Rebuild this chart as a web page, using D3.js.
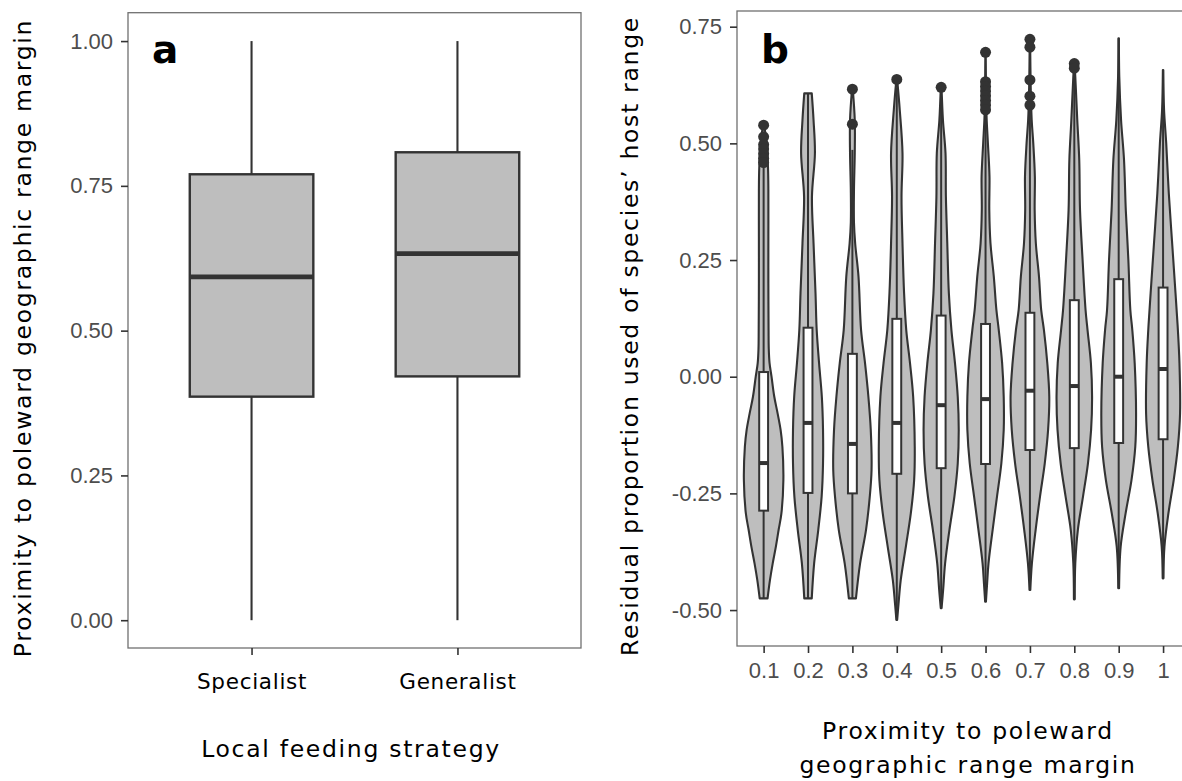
<!DOCTYPE html>
<html><head><meta charset="utf-8">
<script src="https://cdn.jsdelivr.net/npm/d3@7/dist/d3.min.js"></script>
<style>html,body{margin:0;padding:0;background:#fff;}svg{display:block;}</style>
</head><body>
<svg id="chart" width="1182" height="781"></svg>
<script>
// ---------- Panel a data ----------
const feedingCategories = ["Specialist", "Generalist"];
const aWhiskerLow  = [0.000, 0.000];
const aQ1          = [0.386, 0.421];
const aMedian      = [0.593, 0.633];
const aQ3          = [0.770, 0.808];
const aWhiskerHigh = [1.000, 1.000];
const aTicks = [0, 0.25, 0.5, 0.75, 1];

// ---------- Panel b data ----------
const proximityCategories = ["0.1","0.2","0.3","0.4","0.5","0.6","0.7","0.8","0.9","1"];
const bQ1          = [-0.287,-0.249,-0.250,-0.208,-0.196,-0.187,-0.157,-0.153,-0.142,-0.134];
const bMedian      = [-0.185,-0.099,-0.144,-0.099,-0.061,-0.048,-0.030,-0.020, 0.000, 0.0165];
const bQ3          = [ 0.010, 0.105, 0.049, 0.124, 0.131, 0.113, 0.137, 0.164, 0.209, 0.191];
const bWhiskerLow  = [-0.475,-0.475,-0.475,-0.521,-0.496,-0.482,-0.457,-0.477,-0.453,-0.432];
const bWhiskerHigh = [ 0.455, 0.607, 0.486, 0.620, 0.600, 0.563, 0.575, 0.640, 0.725, 0.657];
const bOutliers = [
  [0.539,0.514,0.497,0.488,0.478,0.468,0.459],
  [],
  [0.616,0.541],
  [0.637],
  [0.620],
  [0.695,0.632,0.622,0.612,0.602,0.592,0.582,0.572],
  [0.723,0.706,0.636,0.601,0.582],
  [0.671,0.661],
  [],
  []
];
const bTicks = [-0.5, -0.25, 0, 0.25, 0.5, 0.75];
// violin outlines: [value, relative density], bottom to top
const violinProfiles = [
  [[-0.475,0.20],[-0.436,0.32],[-0.400,0.46],[-0.364,0.62],[-0.328,0.76],[-0.293,0.90],[-0.221,1.00],[-0.150,0.95],[-0.114,0.86],[-0.079,0.71],[-0.043,0.54],[0.000,0.40],[0.029,0.30],[0.060,0.26],[0.100,0.25],[0.200,0.24],[0.300,0.24],[0.400,0.24],[0.450,0.22],[0.500,0.15],[0.539,0.03]],
  [[-0.475,0.19],[-0.400,0.31],[-0.328,0.52],[-0.257,0.69],[-0.186,0.76],[-0.114,0.76],[-0.043,0.70],[0.029,0.56],[0.100,0.44],[0.179,0.38],[0.286,0.28],[0.386,0.20],[0.479,0.35],[0.550,0.28],[0.607,0.19]],
  [[-0.475,0.18],[-0.400,0.39],[-0.328,0.69],[-0.257,0.88],[-0.200,0.97],[-0.114,0.93],[-0.043,0.81],[0.029,0.64],[0.100,0.44],[0.214,0.31],[0.286,0.14],[0.330,0.08],[0.400,0.08],[0.480,0.12],[0.550,0.12],[0.616,0.02]],
  [[-0.521,0.02],[-0.486,0.09],[-0.436,0.20],[-0.364,0.46],[-0.293,0.71],[-0.221,0.88],[-0.150,0.91],[-0.043,0.83],[0.029,0.67],[0.100,0.48],[0.179,0.37],[0.286,0.29],[0.386,0.24],[0.479,0.29],[0.572,0.15],[0.637,0.02]],
  [[-0.496,0.02],[-0.457,0.10],[-0.400,0.20],[-0.328,0.42],[-0.257,0.67],[-0.186,0.84],[-0.114,0.89],[-0.043,0.84],[0.029,0.70],[0.100,0.52],[0.179,0.39],[0.286,0.31],[0.386,0.24],[0.479,0.22],[0.550,0.09],[0.620,0.02]],
  [[-0.482,0.02],[-0.443,0.08],[-0.400,0.15],[-0.328,0.36],[-0.257,0.58],[-0.186,0.80],[-0.114,0.92],[-0.043,0.92],[0.029,0.84],[0.100,0.67],[0.143,0.55],[0.214,0.42],[0.286,0.25],[0.357,0.19],[0.429,0.20],[0.500,0.12],[0.560,0.05],[0.695,0.01]],
  [[-0.457,0.02],[-0.400,0.10],[-0.328,0.29],[-0.257,0.51],[-0.186,0.75],[-0.114,0.92],[-0.043,0.98],[0.029,0.88],[0.100,0.71],[0.143,0.57],[0.214,0.46],[0.286,0.30],[0.357,0.24],[0.429,0.25],[0.500,0.17],[0.550,0.09],[0.620,0.04],[0.723,0.01]],
  [[-0.477,0.02],[-0.400,0.05],[-0.328,0.18],[-0.257,0.44],[-0.186,0.69],[-0.114,0.85],[-0.043,0.90],[0.029,0.84],[0.100,0.67],[0.143,0.57],[0.250,0.42],[0.357,0.29],[0.465,0.25],[0.550,0.15],[0.643,0.05],[0.671,0.01]],
  [[-0.453,0.02],[-0.364,0.10],[-0.293,0.35],[-0.221,0.65],[-0.150,0.84],[-0.079,0.88],[0.029,0.81],[0.100,0.69],[0.143,0.59],[0.250,0.49],[0.357,0.36],[0.465,0.27],[0.550,0.12],[0.643,0.03],[0.725,0.01]],
  [[-0.432,0.02],[-0.364,0.07],[-0.293,0.27],[-0.221,0.54],[-0.150,0.75],[-0.079,0.86],[0.029,0.83],[0.100,0.75],[0.179,0.63],[0.286,0.46],[0.393,0.29],[0.500,0.16],[0.572,0.05],[0.657,0.01]]
];

// ---------- styles ----------
const DARK = "#333333", GREY = "#bebebe", FRAME = "#707070", TICKTXT = "#4d4d4d";
const NUMFONT = "'Liberation Sans', Arial, Helvetica, sans-serif";
const TXTFONT = "'DejaVu Sans', 'Lucida Grande', sans-serif";
const fmt2 = v => d3.format(".2f")(v).replace("\u2212", "-");

const svg = d3.select("#chart");

// ================= Panel a =================
const A = {left:128, right:581, top:12.7, bottom:648};
const xA = d3.scalePoint().domain(feedingCategories).range([A.left, A.right]).padding(0.6);
const yA = d3.scaleLinear().domain([-0.048, 1.049]).range([A.bottom, A.top]);
const gA = svg.append("g");

const statsA = feedingCategories.map((c,i)=>({c, lo:aWhiskerLow[i], q1:aQ1[i], med:aMedian[i], q3:aQ3[i], hi:aWhiskerHigh[i]}));
const bwA = xA.step()*0.6;
const boxesA = gA.selectAll("g.box").data(statsA).join("g");
boxesA.append("line").attr("x1",d=>xA(d.c)).attr("x2",d=>xA(d.c))
  .attr("y1",d=>yA(d.q3)).attr("y2",d=>yA(d.hi)).attr("stroke",DARK).attr("stroke-width",2.1);
boxesA.append("line").attr("x1",d=>xA(d.c)).attr("x2",d=>xA(d.c))
  .attr("y1",d=>yA(d.q1)).attr("y2",d=>yA(d.lo)).attr("stroke",DARK).attr("stroke-width",2.1);
boxesA.append("rect").attr("x",d=>xA(d.c)-bwA/2).attr("width",bwA)
  .attr("y",d=>yA(d.q3)).attr("height",d=>yA(d.q1)-yA(d.q3))
  .attr("fill",GREY).attr("stroke",DARK).attr("stroke-width",2.4);
boxesA.append("line").attr("x1",d=>xA(d.c)-bwA/2).attr("x2",d=>xA(d.c)+bwA/2)
  .attr("y1",d=>yA(d.med)).attr("y2",d=>yA(d.med)).attr("stroke",DARK).attr("stroke-width",4.8);

gA.append("rect").attr("x",A.left).attr("y",A.top).attr("width",A.right-A.left).attr("height",A.bottom-A.top)
  .attr("fill","none").attr("stroke",FRAME).attr("stroke-width",1.3);

const axYA = gA.append("g").attr("transform",`translate(${A.left},0)`)
  .call(d3.axisLeft(yA).tickValues(aTicks).tickFormat(fmt2).tickSize(7).tickPadding(8));
const axXA = gA.append("g").attr("transform",`translate(0,${A.bottom})`)
  .call(d3.axisBottom(xA).tickSize(7).tickPadding(19));

gA.append("text").text("a").attr("x",152).attr("y",63)
  .attr("font-family",TXTFONT).attr("font-weight","bold").attr("font-size",39).attr("fill","#000");
gA.append("text").text("Local feeding strategy").attr("x",351).attr("y",756.7)
  .attr("text-anchor","middle").attr("font-family",TXTFONT).attr("font-size",23.5).attr("letter-spacing",1.7).attr("fill","#000");
gA.append("text").text("Proximity to poleward geographic range margin")
  .attr("transform","translate(31,338) rotate(-90)")
  .attr("text-anchor","middle").attr("font-family",TXTFONT).attr("font-size",23.5).attr("letter-spacing",1.7).attr("fill","#000");

// ================= Panel b =================
const B = {left:737, right:1189.7, top:11, bottom:646};
const xB = d3.scalePoint().domain(proximityCategories).range([B.left, B.right]).padding(0.6);
const yB = d3.scaleLinear().domain([-0.577, 0.7836]).range([B.bottom, B.top]);
const wB = d3.scaleLinear().domain([0, 1]).range([0, xB.step()*0.445]);
const gB = svg.append("g");

const statsB = proximityCategories.map((c,i)=>({c, prof:violinProfiles[i], q1:bQ1[i], med:bMedian[i], q3:bQ3[i], lo:bWhiskerLow[i], hi:bWhiskerHigh[i], out:bOutliers[i]}));

const violinArea = cx => d3.area().curve(d3.curveCatmullRom.alpha(0.5))
  .y(d=>yB(d[0])).x0(d=>cx - wB(d[1])).x1(d=>cx + wB(d[1]));

gB.selectAll("path.violin").data(statsB).join("path")
  .attr("d",d=>violinArea(xB(d.c))(d.prof))
  .attr("fill",GREY).attr("stroke",DARK).attr("stroke-width",2.1).attr("stroke-linejoin","round");

const bwB = xB.step()*0.2;
const boxesB = gB.selectAll("g.bbox").data(statsB).join("g");
boxesB.append("line").attr("x1",d=>xB(d.c)).attr("x2",d=>xB(d.c))
  .attr("y1",d=>yB(d.q3)).attr("y2",d=>yB(d.hi)).attr("stroke",DARK).attr("stroke-width",2);
boxesB.append("line").attr("x1",d=>xB(d.c)).attr("x2",d=>xB(d.c))
  .attr("y1",d=>yB(d.q1)).attr("y2",d=>yB(d.lo)).attr("stroke",DARK).attr("stroke-width",2);
boxesB.append("rect").attr("x",d=>xB(d.c)-bwB/2).attr("width",bwB)
  .attr("y",d=>yB(d.q3)).attr("height",d=>yB(d.q1)-yB(d.q3))
  .attr("fill","#fff").attr("stroke",DARK).attr("stroke-width",2);
boxesB.append("line").attr("x1",d=>xB(d.c)-bwB/2).attr("x2",d=>xB(d.c)+bwB/2)
  .attr("y1",d=>yB(d.med)).attr("y2",d=>yB(d.med)).attr("stroke",DARK).attr("stroke-width",4);
boxesB.selectAll("circle").data(d=>d.out.map(v=>({c:d.c, v}))).join("circle")
  .attr("cx",d=>xB(d.c)).attr("cy",d=>yB(d.v)).attr("r",5.5).attr("fill",DARK);

gB.append("rect").attr("x",B.left).attr("y",B.top).attr("width",B.right-B.left).attr("height",B.bottom-B.top)
  .attr("fill","none").attr("stroke",FRAME).attr("stroke-width",1.3);

const axYB = gB.append("g").attr("transform",`translate(${B.left},0)`)
  .call(d3.axisLeft(yB).tickValues(bTicks).tickFormat(fmt2).tickSize(7).tickPadding(8));
const axXB = gB.append("g").attr("transform",`translate(0,${B.bottom})`)
  .call(d3.axisBottom(xB).tickSize(7).tickPadding(9));

gB.append("text").text("b").attr("x",761).attr("y",63)
  .attr("font-family",TXTFONT).attr("font-weight","bold").attr("font-size",39).attr("fill","#000");
const xtB = gB.append("text").attr("text-anchor","middle").attr("font-family",TXTFONT).attr("font-size",23.5).attr("letter-spacing",1.7).attr("fill","#000");
xtB.append("tspan").attr("x",968).attr("y",739).text("Proximity to poleward");
xtB.append("tspan").attr("x",968).attr("y",772.5).text("geographic range margin");
gB.append("text").text("Residual proportion used of species’ host range")
  .attr("transform","translate(638,336) rotate(-90)")
  .attr("text-anchor","middle").attr("font-family",TXTFONT).attr("font-size",23.5).attr("letter-spacing",1.7).attr("fill","#000");

// ---------- axis styling ----------
[axYA, axYB, axXB].forEach(ax=>{
  ax.select(".domain").remove();
  ax.selectAll(".tick line").attr("stroke",DARK).attr("stroke-width",1.6);
  ax.selectAll(".tick text").attr("fill",TICKTXT).attr("font-family",NUMFONT).attr("font-size",22);
});
axXA.select(".domain").remove();
axXA.selectAll(".tick line").attr("stroke",DARK).attr("stroke-width",1.6);
axXA.selectAll(".tick text").attr("fill","#000").attr("font-family",TXTFONT).attr("font-size",21.5).attr("letter-spacing",0.7);
</script>
</body></html>
